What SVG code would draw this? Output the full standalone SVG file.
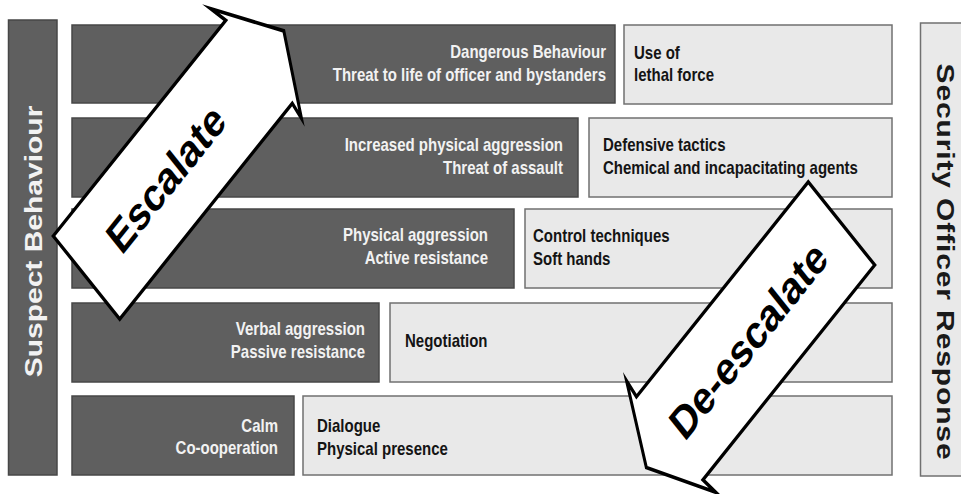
<svg xmlns="http://www.w3.org/2000/svg" width="961" height="494" viewBox="0 0 961 494">
<style>
.bg{fill:#ffffff}
.dark{fill:#5f5f5f;stroke:#474747;stroke-width:1.5}
.light{fill:#e9e9e9;stroke:#707070;stroke-width:1.5}
text{font-family:"Liberation Sans",Arial,sans-serif;font-weight:bold}
.dt{fill:#f2f2f2;font-size:15px;text-anchor:end}
.lt{fill:#141414;font-size:15px}
.side{font-size:24px;text-anchor:middle}
.arrow{fill:#ffffff;stroke:#000000;stroke-width:3;stroke-linejoin:miter;stroke-miterlimit:10}
.at{fill:#000000;font-size:37px;text-anchor:middle}
</style>
<rect class="bg" x="0" y="0" width="961" height="494"/>

<g id="suspect-behaviour">
<rect class="dark" x="8.5" y="20" width="48.5" height="455"/>
<text class="side" fill="#f2f2f2" transform="translate(42,241.5) scale(1,1.25) rotate(-90)">Suspect Behaviour</text>
</g>

<g id="security-officer-response">
<rect class="light" x="920.5" y="23" width="46" height="453"/>
<text class="side" fill="#1a1a1a" transform="translate(937,262) scale(1,1.25) rotate(90)" letter-spacing="0.7">Security Officer Response</text>
</g>

<g id="b1">
<rect class="dark" x="72" y="25" width="543" height="78"/>
<text class="dt" transform="translate(606,57.5) scale(1,1.25)"><tspan x="0" y="0">Dangerous Behaviour</tspan><tspan x="0" y="18.7">Threat to life of officer and bystanders</tspan></text>
</g>
<g id="r1">
<rect class="light" x="624" y="25" width="268" height="79"/>
<text class="lt" transform="translate(634,58.5) scale(1,1.25)"><tspan x="0" y="0">Use of</tspan><tspan x="0" y="18.4">lethal force</tspan></text>
</g>

<g id="b2">
<rect class="dark" x="72" y="118" width="506" height="79"/>
<text class="dt" transform="translate(563,150.7) scale(1,1.25)"><tspan x="0" y="0">Increased physical aggression</tspan><tspan x="0" y="18.6">Threat of assault</tspan></text>
</g>
<g id="r2">
<rect class="light" x="589" y="118" width="303" height="79"/>
<text class="lt" transform="translate(603,150.5) scale(1,1.25)"><tspan x="0" y="0">Defensive tactics</tspan><tspan x="0" y="18.6">Chemical and incapacitating agents</tspan></text>
</g>

<g id="b3">
<rect class="dark" x="72" y="209" width="442" height="79"/>
<text class="dt" transform="translate(488,240.5) scale(1,1.25)"><tspan x="0" y="0">Physical aggression</tspan><tspan x="0" y="18.6">Active resistance</tspan></text>
</g>
<g id="r3">
<rect class="light" x="525" y="209" width="367" height="79"/>
<text class="lt" transform="translate(533,241.5) scale(1,1.25)"><tspan x="0" y="0">Control techniques</tspan><tspan x="0" y="18.6">Soft hands</tspan></text>
</g>

<g id="b4">
<rect class="dark" x="72" y="303" width="307" height="79"/>
<text class="dt" transform="translate(365,335) scale(1,1.25)"><tspan x="0" y="0">Verbal aggression</tspan><tspan x="0" y="18.4">Passive resistance</tspan></text>
</g>
<g id="r4">
<rect class="light" x="390" y="303" width="502" height="79"/>
<text class="lt" transform="translate(405,347) scale(1,1.25)">Negotiation</text>
</g>

<g id="b5">
<rect class="dark" x="72" y="396" width="222" height="79"/>
<text class="dt" transform="translate(278,431.7) scale(1,1.25)"><tspan x="0" y="0">Calm</tspan><tspan x="0" y="18">Co-ooperation</tspan></text>
</g>
<g id="r5">
<rect class="light" x="303" y="396" width="589" height="79"/>
<text class="lt" transform="translate(317,431.7) scale(1,1.25)"><tspan x="0" y="0">Dialogue</tspan><tspan x="0" y="18.4">Physical presence</tspan></text>
</g>

<g id="connectors" transform="scale(1,1.25)">
<g id="escalate">
<polygon class="arrow" transform="translate(86.5,222) rotate(-45)" points="0,-47 244,-47 240,-64 279,0 242,62 244,47 0,47"/>
<text class="at" transform="translate(86.5,222) rotate(-45)" x="112" y="13">Escalate</text>
</g>
<g id="de-escalate">
<polygon class="arrow" transform="translate(841.5,178.8) rotate(135)" points="0,-47 243,-47 241,-63 276,0 241,63 243,47 0,47"/>
<text class="at" transform="translate(748.2,272.1) rotate(-45)" x="0" y="13">De-escalate</text>
</g>
</g>
</svg>
